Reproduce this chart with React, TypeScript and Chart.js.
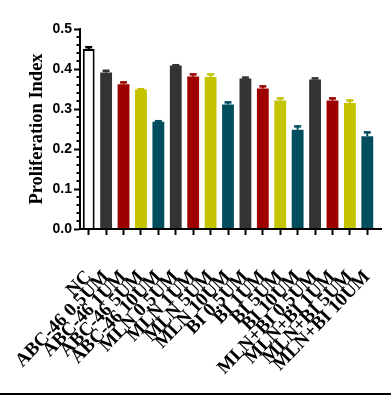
import React, { useEffect, useRef } from "react";
import { Chart, registerables } from "chart.js";
Chart.register(...registerables);

const categories = [
  "NC",
  "ABC-46 0.5UM",
  "ABC-46 1UM",
  "ABC-46 5UM",
  "ABC-46 10UM",
  "MLN 0.5UM",
  "MLN 1UM",
  "MLN 5UM",
  "MLN 10UM",
  "BI 0.5UM",
  "BI 1UM",
  "BI 5UM",
  "BI 10UM",
  "MLN+BI 0.5UM",
  "MLN+BI 1UM",
  "MLN+BI 5UM",
  "MLN+BI 10UM",
];
const values = [0.45, 0.391, 0.362, 0.349, 0.268, 0.409, 0.381, 0.38, 0.311, 0.376, 0.351, 0.321, 0.248, 0.374, 0.321, 0.315, 0.232];
const errors = [0.007, 0.007, 0.007, 0.003, 0.004, 0.003, 0.008, 0.009, 0.008, 0.005, 0.008, 0.008, 0.011, 0.005, 0.008, 0.009, 0.012];
const fillColors = ["#ffffff", "#333333", "#9e0000", "#c3c300", "#024d5e", "#333333", "#9e0000", "#c3c300", "#024d5e", "#333333", "#9e0000", "#c3c300", "#024d5e", "#333333", "#9e0000", "#c3c300", "#024d5e"];
const edgeColors = ["#000000", "#333333", "#9e0000", "#c3c300", "#024d5e", "#333333", "#9e0000", "#c3c300", "#024d5e", "#333333", "#9e0000", "#c3c300", "#024d5e", "#333333", "#9e0000", "#c3c300", "#024d5e"];
const yMax = 0.5;
const yMajorStep = 0.1;
const yMinorStep = 0.02;
const yTitle = "Proliferation Index";

const errorBarPlugin = {
  id: "errorBars",
  afterDatasetsDraw(chart: any) {
    const ctx = chart.ctx;
    const meta = chart.getDatasetMeta(0);
    const y = chart.scales.y;
    ctx.save();
    meta.data.forEach((bar: any, i: number) => {
      const top = y.getPixelForValue(values[i] + errors[i]);
      ctx.strokeStyle = edgeColors[i];
      ctx.lineWidth = 2;
      ctx.beginPath();
      ctx.moveTo(bar.x, bar.y);
      ctx.lineTo(bar.x, top);
      ctx.stroke();
      ctx.lineWidth = 2.5;
      ctx.beginPath();
      ctx.moveTo(bar.x - 3.5, top + 1);
      ctx.lineTo(bar.x + 3.5, top + 1);
      ctx.stroke();
    });
    ctx.restore();
  },
};

const axisExtrasPlugin = {
  id: "axisExtras",
  afterDraw(chart: any) {
    const ctx = chart.ctx;
    const y = chart.scales.y;
    const area = chart.chartArea;
    ctx.save();
    ctx.strokeStyle = "#000";
    ctx.lineWidth = 2;
    const n = Math.round(yMax / yMinorStep);
    const ratio = Math.round(yMajorStep / yMinorStep);
    for (let k = 1; k < n; k++) {
      if (k % ratio === 0) continue;
      const py = Math.round(y.getPixelForValue(k * yMinorStep));
      ctx.beginPath();
      ctx.moveTo(area.left - 3.5, py);
      ctx.lineTo(area.left, py);
      ctx.stroke();
    }
    // x axis line
    ctx.beginPath();
    ctx.moveTo(area.left - 1, area.bottom);
    ctx.lineTo(area.right + 6, area.bottom);
    ctx.stroke();
    ctx.restore();
  },
};

export default function App() {
  const ref = useRef<HTMLCanvasElement>(null);
  useEffect(() => {
    if (!ref.current) return;
    const chart = new Chart(ref.current, {
      type: "bar",
      data: {
        labels: categories,
        datasets: [
          {
            data: values,
            backgroundColor: fillColors,
            borderColor: edgeColors,
            borderWidth: values.map((_, i) => (i === 0 ? 2 : 0)),
            barPercentage: 0.68,
            categoryPercentage: 1,
          },
        ],
      },
      options: {
        responsive: false,
        animation: false,
        devicePixelRatio: 1,
        layout: { padding: { top: 29, right: 15, left: 0, bottom: 0 } },
        plugins: { legend: { display: false }, tooltip: { enabled: false } },
        scales: {
          x: {
            afterFit: (s: any) => {
              s.height = 166;
              s.paddingLeft = 0;
              s.paddingRight = 0;
            },
            border: { display: false },
            grid: { display: true, drawOnChartArea: false, offset: false, tickLength: 6, tickWidth: 2, tickColor: "#000" },
            ticks: {
              autoSkip: false,
              minRotation: 46,
              maxRotation: 46,
              padding: 31,
              color: "#000",
              font: { family: "'Liberation Serif', 'Times New Roman', serif", weight: "bold", size: 19 },
            },
          },
          y: {
            min: 0,
            max: yMax,
            afterFit: (s: any) => {
              s.width = 80;
            },
            border: { display: true, color: "#000", width: 2 },
            grid: { display: true, drawOnChartArea: false, tickLength: 6, tickWidth: 2, tickColor: "#000" },
            ticks: {
              stepSize: yMajorStep,
              padding: 2,
              color: "#000",
              font: { family: "'Liberation Sans', Arial, sans-serif", weight: "bold", size: 14 },
              callback: (v: any) => Number(v).toFixed(1),
            },
            title: {
              display: true,
              text: yTitle,
              color: "#000",
              padding: { top: 26, bottom: 0 },
              font: { family: "'Liberation Serif', 'Times New Roman', serif", weight: "bold", size: 18.5 },
            },
          },
        },
      },
      plugins: [errorBarPlugin, axisExtrasPlugin],
    } as any);
    return () => chart.destroy();
  }, []);
  return (
    <div style={{ position: "absolute", left: 0, top: 0, width: 391, height: 395, background: "#fff" }}>
      <canvas ref={ref} width={391} height={395} style={{ display: "block" }} />
      <div style={{ position: "absolute", left: 0, top: 393, width: 391, height: 2, background: "#000" }} />
    </div>
  );
}
